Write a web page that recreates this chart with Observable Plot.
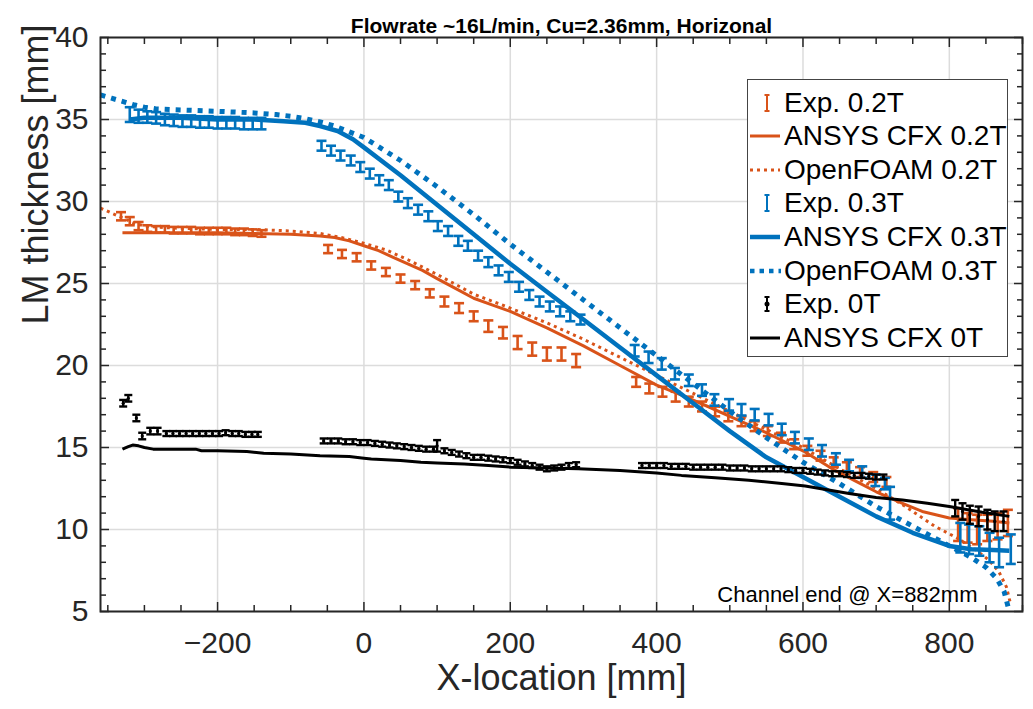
<!DOCTYPE html>
<html><head><meta charset="utf-8">
<script src="https://cdn.jsdelivr.net/npm/d3@7"></script>
<script src="https://cdn.jsdelivr.net/npm/@observablehq/plot@0.6"></script>
<style>
body{margin:0;background:#fff;font-family:"Liberation Sans",Arial,sans-serif;}
#wrap{position:relative;width:1033px;height:709px;overflow:hidden;}
#legend{position:absolute;left:747px;top:79px;width:261px;height:278px;border:1.5px solid #444;background:#fff;box-sizing:border-box;}
.row{position:absolute;left:0;height:34px;display:flex;align-items:center;font-size:28px;color:#000;white-space:nowrap;}
.row svg{width:36px;height:34px;flex:none;}
</style></head><body><div id="wrap"><div id="chart"></div><div id="legend"></div></div>
<script>
const ORANGE = "#D95319", BLUE = "#0072BD", BLACK = "#000000";
const titleText = "Flowrate ~16L/min, Cu=2.36mm, Horizonal";
const xLabel = "X-location [mm]";
const yLabel = "LM thickness [mm]";
const noteText = "Channel end @ X=882mm";
const xMajor = [-200, 0, 200, 400, 600, 800];
const xMinor = [-350,-300,-250,-150,-100,-50,50,100,150,250,300,350,450,500,550,650,700,750,850,900];
const yMajor = [5, 10, 15, 20, 25, 30, 35, 40];
const yMinor = [6,7,8,9,11,12,13,14,16,17,18,19,21,22,23,24,26,27,28,29,31,32,33,34,36,37,38,39];
const legendLabels = ["Exp. 0.2T","ANSYS CFX 0.2T","OpenFOAM 0.2T","Exp. 0.3T","ANSYS CFX 0.3T","OpenFOAM 0.3T","Exp. 0T","ANSYS CFX 0T"];

// ANSYS CFX 0.2T
const cfx02X = [-330,-300,-250,-200,-150,-100,-60,-40,-20,0,20,40,60,80,100,125,150,175,200,250,300,350,400,434,470,500,550,600,640,670,700,736,763,800,830,860,882];
const cfx02Y = [28.1,28.1,28.1,28.1,28.05,28.0,27.9,27.8,27.6,27.3,27.0,26.6,26.2,25.8,25.3,24.7,24.1,23.7,23.3,22.3,21.2,20.0,18.8,18.2,17.5,16.9,15.9,14.8,13.7,13.0,12.3,11.6,11.1,10.7,10.6,10.5,10.4];
// OpenFOAM 0.2T
const of02X = [-360,-345,-330,-315,-300,-270,-240,-200,-150,-100,-60,-30,0,30,60,100,150,200,250,300,350,400,450,500,550,600,650,700,740,780,810,835,855,868,878,884];
const of02Y = [29.6,29.3,29.0,28.7,28.5,28.4,28.35,28.3,28.3,28.2,28.05,27.8,27.45,27.05,26.45,25.55,24.35,23.5,22.6,21.6,20.5,19.4,18.3,17.2,16.1,15.0,13.7,12.5,11.4,10.2,9.5,8.8,8.1,7.4,6.5,5.4];
// ANSYS CFX 0.3T
const cfx03X = [-320,-300,-250,-200,-150,-110,-80,-60,-36,-15,0,50,100,150,200,250,300,350,400,450,500,550,600,650,700,750,800,830,860,882];
const cfx03Y = [35.0,35.1,35.1,35.0,35.0,34.9,34.8,34.6,34.3,33.8,33.3,31.6,29.8,28.0,26.2,24.5,22.8,21.1,19.4,17.7,16.0,14.4,13.2,12.0,10.8,9.8,9.0,8.8,8.75,8.7];
// OpenFOAM 0.3T
const of03X = [-360,-345,-330,-315,-300,-285,-260,-200,-150,-120,-100,-80,-60,-40,-20,0,50,100,150,200,250,300,350,400,450,500,550,600,650,700,750,800,830,850,865,875,882];
const of03Y = [36.5,36.3,36.1,35.9,35.75,35.65,35.6,35.5,35.4,35.3,35.2,35.05,34.85,34.6,34.25,33.9,32.5,30.9,29.2,27.4,25.7,24.0,22.3,20.6,18.9,17.2,15.6,14.1,12.8,11.4,10.2,9.0,8.3,7.7,7.0,6.2,5.0];
// ANSYS CFX 0T
const cfx0X = [-330,-322,-316,-308,-300,-288,-260,-230,-222,-200,-160,-137,-100,-60,-20,0,10,50,78,100,137,170,201,250,293,350,400,434,480,526,571,603,663,700,736,770,800,845,882];
const cfx0Y = [14.9,15.05,15.15,15.1,15.0,14.9,14.9,14.9,14.8,14.8,14.75,14.65,14.6,14.5,14.45,14.35,14.3,14.2,14.1,14.05,14.0,13.9,13.8,13.75,13.7,13.6,13.45,13.3,13.15,13.0,12.8,12.65,12.2,11.95,11.8,11.6,11.4,11.05,10.8];

// Exp 0.2T
const exp02X = [-332,-320,-308,-296,-284,-272,-260,-248,-236,-224,-212,-200,-188,-176,-164,-152,-140,
 -49,-30,-10,10,30,50,70,90,110,130,150,170,190,210,230,250,270,290,
 372,390,408,426,444,462,480,498,516,534,552,570,588,606,624,642,660,678,696,714,
 812,825,838,852,866,880];
const exp02Y = [29.1,28.8,28.5,28.35,28.3,28.3,28.25,28.25,28.25,28.2,28.2,28.2,28.2,28.15,28.15,28.1,28.05,
 27.1,26.8,26.6,26.1,25.7,25.3,24.9,24.4,23.9,23.5,23.0,22.4,22.0,21.4,21.0,20.7,20.7,20.3,
 19.0,18.6,18.4,18.1,17.8,17.5,17.2,16.9,16.6,16.3,16.0,15.6,15.2,14.8,14.5,14.1,13.8,13.5,13.2,12.9,
 10.3,10.1,10.0,10.1,10.2,10.4];
const exp02E = [0.25,0.25,0.25,0.2,0.2,0.2,0.2,0.2,0.2,0.2,0.2,0.2,0.2,0.2,0.2,0.2,0.2,
 0.25,0.25,0.25,0.25,0.25,0.25,0.25,0.25,0.3,0.3,0.3,0.35,0.35,0.4,0.4,0.4,0.4,0.4,
 0.3,0.3,0.3,0.3,0.3,0.3,0.3,0.3,0.3,0.3,0.3,0.3,0.3,0.3,0.3,0.3,0.3,0.3,0.3,0.3,
 1.0,0.9,0.9,0.8,0.8,0.8];
// Exp 0.3T
const exp03X = [-320,-308,-296,-284,-272,-260,-248,-236,-224,-212,-200,-188,-176,-164,-152,-140,
 -58,-45,-32,-18,-5,8,21,34,47,60,74,88,101,115,129,142,156,170,184,198,212,226,240,254,268,282,296,
 370,389,407,425,444,462,479,499,516,534,553,571,589,608,626,645,663,681,699,712,719,
 815,827,841,855,868,884];
const exp03Y = [35.3,35.2,35.15,35.1,35.0,34.95,34.9,34.9,34.85,34.85,34.8,34.8,34.8,34.75,34.75,34.75,
 33.4,33.1,32.8,32.5,32.1,31.7,31.3,31.0,30.3,29.9,29.5,29.1,28.5,28.2,27.6,27.3,26.7,26.3,25.8,25.4,24.8,24.3,23.9,23.6,23.3,23.0,22.8,
 20.9,20.5,20.1,19.5,19.1,18.5,17.9,17.6,17.3,17.0,16.7,16.1,15.6,15.2,14.8,14.3,13.9,13.5,13.0,12.8,11.6,
 9.5,9.4,9.3,8.9,8.6,8.8];
const exp03E = [0.45,0.4,0.35,0.35,0.35,0.35,0.35,0.35,0.35,0.35,0.35,0.35,0.35,0.35,0.35,0.35,
 0.3,0.3,0.3,0.3,0.3,0.3,0.3,0.3,0.3,0.3,0.3,0.3,0.3,0.3,0.3,0.3,0.3,0.3,0.3,0.3,0.3,0.3,0.3,0.3,0.3,0.3,0.3,
 0.35,0.35,0.35,0.35,0.35,0.35,0.35,0.35,0.35,0.35,0.35,0.35,0.35,0.35,0.35,0.35,0.35,0.35,0.35,0.35,1.0,
 0.9,0.9,0.9,0.9,0.9,0.9];
// Exp 0T
const exp0X = [-329,-322,-311,-303,-292,-282,-270,-261,-252,-243,-234,-225,-216,-207,-198,-189,-180,-171,-162,-153,-145,
 -55,-45,-35,-25,-15,-5,5,15,25,35,45,55,65,75,85,95,100,110,120,130,140,150,160,170,180,190,200,210,220,230,240,250,260,270,280,290,
 380,390,400,410,420,430,440,450,460,470,480,490,500,510,520,530,540,550,560,570,580,590,600,610,620,630,640,650,660,670,680,690,700,710,
 808,818,828,840,852,862,874];
const exp0Y = [17.7,18.0,16.8,15.7,16.0,16.0,15.85,15.85,15.85,15.85,15.85,15.85,15.85,15.85,15.85,15.9,15.85,15.85,15.8,15.8,15.8,
 15.4,15.4,15.4,15.35,15.35,15.3,15.3,15.25,15.2,15.15,15.1,15.05,15.0,14.95,14.9,14.9,15.1,14.8,14.7,14.6,14.5,14.4,14.4,14.35,14.3,14.25,14.2,14.1,14.0,13.9,13.8,13.7,13.75,13.8,13.9,13.95,
 13.9,13.9,13.9,13.9,13.85,13.85,13.85,13.8,13.8,13.8,13.8,13.8,13.75,13.75,13.75,13.7,13.7,13.7,13.7,13.7,13.65,13.6,13.6,13.55,13.5,13.45,13.4,13.4,13.35,13.3,13.3,13.25,13.2,13.2,
 11.3,11.1,10.9,10.8,10.6,10.5,10.5];
const exp0E = [0.2,0.2,0.2,0.2,0.2,0.2,0.15,0.15,0.15,0.15,0.15,0.15,0.15,0.15,0.15,0.15,0.15,0.15,0.15,0.15,0.15,
 0.15,0.15,0.15,0.15,0.15,0.15,0.15,0.15,0.15,0.15,0.15,0.15,0.15,0.15,0.15,0.15,0.35,0.15,0.15,0.15,0.15,0.15,0.15,0.15,0.15,0.15,0.15,0.15,0.15,0.15,0.15,0.15,0.15,0.15,0.15,0.15,
 0.15,0.15,0.15,0.15,0.15,0.15,0.15,0.15,0.15,0.15,0.15,0.15,0.15,0.15,0.15,0.15,0.15,0.15,0.15,0.15,0.15,0.15,0.15,0.15,0.15,0.15,0.15,0.15,0.15,0.15,0.15,0.15,0.15,0.15,
 0.5,0.5,0.55,0.6,0.6,0.6,0.6];

const pts = (xs, ys) => xs.map((x, i) => ({x, y: ys[i]}));
const bars = (xs, ys, es) => xs.map((x, i) => ({x, y: ys[i], lo: ys[i] - es[i], hi: ys[i] + es[i]}));
const hline = {draw(ctx, size) { const r = Math.sqrt(size / Math.PI); ctx.moveTo(-r, 0); ctx.lineTo(r, 0); }};

function errMarks(data, color, w, capR, withDot) {
  const m = [
    Plot.ruleX(data, {x: "x", y1: "lo", y2: "hi", stroke: color, strokeWidth: w}),
    Plot.dot(data, {x: "x", y: "lo", symbol: hline, r: capR, stroke: color, strokeWidth: w, fill: "none"}),
    Plot.dot(data, {x: "x", y: "hi", symbol: hline, r: capR, stroke: color, strokeWidth: w, fill: "none"})
  ];
  if (withDot) m.push(Plot.dot(data, {x: "x", y: "y", r: 1.6, fill: color, stroke: "none"}));
  return m;
}
const lineMark = (xs, ys, color, w, dash) => Plot.line(pts(xs, ys), {x: "x", y: "y", stroke: color, strokeWidth: w, strokeDasharray: dash, strokeLinecap: "butt", strokeLinejoin: "round"});

const AX = "#262626";
const chart = Plot.plot({
  width: 1033, height: 709,
  marginLeft: 100, marginRight: 11, marginTop: 37, marginBottom: 98,
  x: {domain: [-360, 900]},
  y: {domain: [5, 40]},
  style: {fontFamily: "'Liberation Sans', Arial, sans-serif", background: "white", overflow: "visible"},
  marks: [
    Plot.gridX(xMajor, {stroke: "#dcdcdc", strokeOpacity: 1, strokeWidth: 1.5}),
    Plot.gridY(yMajor, {stroke: "#dcdcdc", strokeOpacity: 1, strokeWidth: 1.5}),
    ...errMarks(bars(exp02X, exp02Y, exp02E), ORANGE, 2.6, 5, false),
    lineMark(cfx02X, cfx02Y, ORANGE, 3, null),
    lineMark(of02X, of02Y, ORANGE, 3, "3,4"),
    ...errMarks(bars(exp03X, exp03Y, exp03E), BLUE, 2.6, 5, false),
    lineMark(cfx03X, cfx03Y, BLUE, 4.5, null),
    lineMark(of03X, of03Y, BLUE, 5, "5,6"),
    ...errMarks(bars(exp0X, exp0Y, exp0E), BLACK, 2.4, 4, true),
    lineMark(cfx0X, cfx0Y, BLACK, 3, null),
    Plot.frame({stroke: AX, strokeWidth: 2}),
    Plot.axisX(xMajor, {anchor: "bottom", tickSize: -9, fill: "none", stroke: AX, strokeWidth: 1.5, label: null}),
    Plot.axisX(xMajor, {anchor: "top", tickSize: -9, fill: "none", stroke: AX, strokeWidth: 1.5, label: null}),
    Plot.axisX(xMinor, {anchor: "bottom", tickSize: -6, fill: "none", stroke: AX, strokeWidth: 1.5, label: null}),
    Plot.axisX(xMinor, {anchor: "top", tickSize: -6, fill: "none", stroke: AX, strokeWidth: 1.5, label: null}),
    Plot.axisY(yMajor, {anchor: "left", tickSize: -9, fill: "none", stroke: AX, strokeWidth: 1.5, label: null}),
    Plot.axisY(yMajor, {anchor: "right", tickSize: -9, fill: "none", stroke: AX, strokeWidth: 1.5, label: null}),
    Plot.axisY(yMinor, {anchor: "left", tickSize: -6, fill: "none", stroke: AX, strokeWidth: 1.5, label: null}),
    Plot.axisY(yMinor, {anchor: "right", tickSize: -6, fill: "none", stroke: AX, strokeWidth: 1.5, label: null}),
    Plot.axisX(xMajor, {anchor: "bottom", tickSize: 0, tickPadding: 20, fontSize: 30, fill: AX, label: null}),
    Plot.axisY(yMajor, {anchor: "left", tickSize: 0, tickPadding: 12, fontSize: 30, fill: AX, label: null}),
    Plot.text([xLabel], {frameAnchor: "bottom", dy: 78, text: d => d, fontSize: 36, fill: AX}),
    Plot.text([yLabel], {frameAnchor: "left", dx: -64, rotate: -90, text: d => d, fontSize: 36, fill: AX}),
    Plot.text([titleText], {frameAnchor: "top", dy: -19, text: d => d, fontSize: 21, fontWeight: "bold", fill: "#000"}),
    Plot.text([noteText], {frameAnchor: "bottom-right", dx: -45, dy: -17, textAnchor: "end", lineAnchor: "middle", text: d => d, fontSize: 22, fill: "#000"})
  ]
});
document.getElementById("chart").appendChild(chart);

// legend
const leg = document.getElementById("legend");
const ebar = c => `<svg viewBox="0 0 36 34"><line x1="19" x2="19" y1="9" y2="25" stroke="${c}" stroke-width="2"/><line x1="16.5" x2="21.5" y1="9" y2="9" stroke="${c}" stroke-width="2"/><line x1="16.5" x2="21.5" y1="25" y2="25" stroke="${c}" stroke-width="2"/></svg>`;
const swatch = [
  ebar(ORANGE),
  `<svg viewBox="0 0 36 34"><line x1="2" x2="32" y1="17" y2="17" stroke="${ORANGE}" stroke-width="3"/></svg>`,
  `<svg viewBox="0 0 36 34"><line x1="2" x2="32" y1="17" y2="17" stroke="${ORANGE}" stroke-width="3" stroke-dasharray="3,4"/></svg>`,
  ebar(BLUE),
  `<svg viewBox="0 0 36 34"><line x1="2" x2="32" y1="17" y2="17" stroke="${BLUE}" stroke-width="4.5"/></svg>`,
  `<svg viewBox="0 0 36 34"><line x1="2" x2="33" y1="17" y2="17" stroke="${BLUE}" stroke-width="4.5" stroke-dasharray="4.5,5"/></svg>`,
  `<svg viewBox="0 0 36 34"><line x1="19" x2="19" y1="10" y2="24" stroke="${BLACK}" stroke-width="2"/><line x1="16.5" x2="21.5" y1="10" y2="10" stroke="${BLACK}" stroke-width="2"/><line x1="16.5" x2="21.5" y1="24" y2="24" stroke="${BLACK}" stroke-width="2"/><circle cx="19" cy="17" r="2.5" fill="${BLACK}"/></svg>`,
  `<svg viewBox="0 0 36 34"><line x1="2" x2="32" y1="17" y2="17" stroke="${BLACK}" stroke-width="3"/></svg>`
];
legendLabels.forEach((lab, i) => {
  const r = document.createElement("div");
  r.className = "row";
  r.style.top = (24 + 33.6 * i - 17 - 1.5) + "px";
  r.innerHTML = swatch[i] + `<span>${lab}</span>`;
  leg.appendChild(r);
});
</script>
</body></html>
